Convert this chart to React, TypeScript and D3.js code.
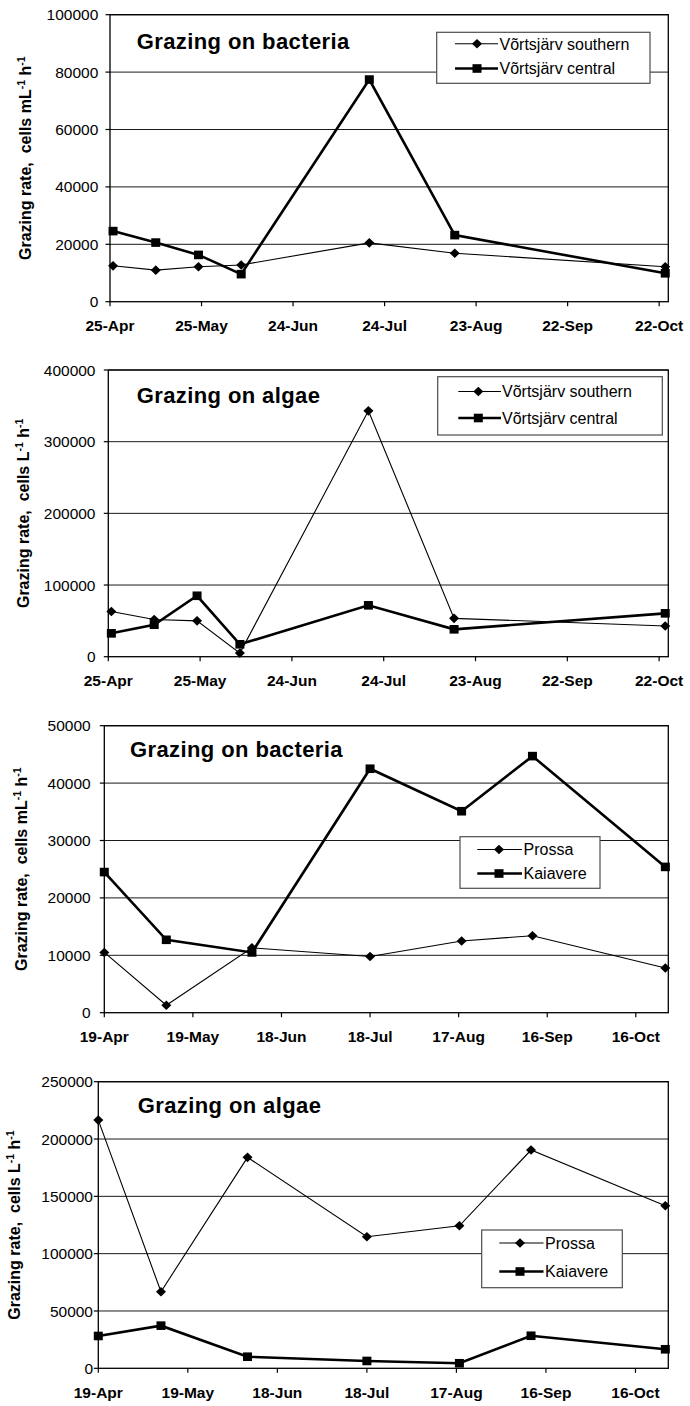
import React from "react";
import * as d3 from "d3";

const parseDay = d3.utcParse("%Y-%m-%d");
const fmtDay = d3.utcFormat("%-d-%b");

// Võrtsjärv sampling campaign
const vortsDates = ["2003-04-26", "2003-05-10", "2003-05-24", "2003-06-07", "2003-07-19", "2003-08-16", "2003-10-24"];
const vortsDomain = ["2003-04-25", "2003-10-25"];
const vortsTicks = ["2003-04-25", "2003-05-25", "2003-06-24", "2003-07-24", "2003-08-23", "2003-09-22", "2003-10-22"];
const bacteriaSouthern = [12500, 11000, 12200, 12800, 20500, 16900, 12200];
const bacteriaCentral = [24600, 20600, 16300, 9600, 77400, 23200, 9900];
const algaeSouthern = [63000, 52000, 50000, 5000, 343000, 53500, 42800];
const algaeCentral = [32600, 44600, 85000, 17300, 71700, 38200, 60500];

// Prossa / Kaiavere sampling campaign
const smallLakeDates = ["2003-04-19", "2003-05-10", "2003-06-08", "2003-07-18", "2003-08-18", "2003-09-11", "2003-10-26"];
const smallLakeDomain = ["2003-04-19", "2003-10-27"];
const smallLakeTicks = ["2003-04-19", "2003-05-19", "2003-06-18", "2003-07-18", "2003-08-17", "2003-09-16", "2003-10-16"];
const bacteriaProssa = [10500, 1300, 11300, 9800, 12500, 13400, 7800];
const bacteriaKaiavere = [24500, 12700, 10500, 42500, 35100, 44700, 25400];
const algaeProssa = [216500, 66800, 184000, 114800, 124300, 190400, 141800];
const algaeKaiavere = [28200, 37200, 10100, 6400, 4400, 28400, 16600];

const yMaxima = [100000, 400000, 50000, 250000];
const panelTitles = ["Grazing on bacteria", "Grazing on algae", "Grazing on bacteria", "Grazing on algae"];
const unitLabels = ["mL", "L", "mL", "L"];

const FONT = "'Liberation Sans', Arial, Helvetica, sans-serif";

type Series = { name: string; dates: string[]; values: number[]; heavy: boolean };

type Geometry = {
  left: number; right: number; top: number; bottom: number;
  tickLabelRight: number; yTitleX: number; titleX: number; titleDy: number;
  legend: { x0: number; x1: number; y0: number; y1: number; rows: number[]; lineX0: number; lineX1: number; markerX: number; textX: number };
};

const geometry: Geometry[] = [
  {
    left: 110, right: 668.3, top: 14.7, bottom: 301.7, tickLabelRight: 98.3, yTitleX: 25, titleX: 136.7, titleDy: 34.6,
    legend: { x0: 436.7, x1: 650, y0: 32.3, y1: 83.3, rows: [43.8, 68.5], lineX0: 455, lineX1: 498, markerX: 477, textX: 499.5 },
  },
  {
    left: 108.3, right: 668.3, top: 370, bottom: 656.7, tickLabelRight: 95.5, yTitleX: 23.5, titleX: 136.7, titleDy: 32.7,
    legend: { x0: 437.7, x1: 662.3, y0: 376.7, y1: 435, rows: [391.5, 418], lineX0: 458.3, lineX1: 501, markerX: 478.3, textX: 502 },
  },
  {
    left: 104.3, right: 668.3, top: 725.7, bottom: 1012.7, tickLabelRight: 90.7, yTitleX: 21.7, titleX: 130, titleDy: 31.6,
    legend: { x0: 460, x1: 600, y0: 836.7, y1: 888.3, rows: [849.5, 873.5], lineX0: 477.3, lineX1: 522, markerX: 499, textX: 523.5 },
  },
  {
    left: 98.3, right: 668.3, top: 1081.7, bottom: 1368.3, tickLabelRight: 93, yTitleX: 14, titleX: 137.7, titleDy: 31,
    legend: { x0: 481.7, x1: 622.3, y0: 1230, y1: 1287.7, rows: [1243, 1271.5], lineX0: 499.3, lineX1: 543.5, markerX: 520, textX: 545 },
  },
];

const panelSeries: Series[][] = [
  [
    { name: "Võrtsjärv southern", dates: vortsDates, values: bacteriaSouthern, heavy: false },
    { name: "Võrtsjärv central", dates: vortsDates, values: bacteriaCentral, heavy: true },
  ],
  [
    { name: "Võrtsjärv southern", dates: vortsDates, values: algaeSouthern, heavy: false },
    { name: "Võrtsjärv central", dates: vortsDates, values: algaeCentral, heavy: true },
  ],
  [
    { name: "Prossa", dates: smallLakeDates, values: bacteriaProssa, heavy: false },
    { name: "Kaiavere", dates: smallLakeDates, values: bacteriaKaiavere, heavy: true },
  ],
  [
    { name: "Prossa", dates: smallLakeDates, values: algaeProssa, heavy: false },
    { name: "Kaiavere", dates: smallLakeDates, values: algaeKaiavere, heavy: true },
  ],
];

const panelDomains = [vortsDomain, vortsDomain, smallLakeDomain, smallLakeDomain];
const panelTicks = [vortsTicks, vortsTicks, smallLakeTicks, smallLakeTicks];

function Marker({ x, y, heavy }: { x: number; y: number; heavy: boolean }) {
  if (heavy) {
    return <rect x={x - 4.5} y={y - 4.3} width={9} height={8.6} fill="#000" />;
  }
  const w = 5, h = 4.8;
  return <path d={`M${x},${y - h}L${x + w},${y}L${x},${y + h}L${x - w},${y}Z`} fill="#000" />;
}

function Panel({ index }: { index: number }) {
  const g = geometry[index];
  const series = panelSeries[index];
  const x = d3
    .scaleUtc()
    .domain(panelDomains[index].map((d) => parseDay(d) as Date))
    .range([g.left, g.right]);
  const y = d3.scaleLinear().domain([0, yMaxima[index]]).range([g.bottom, g.top]);
  const yTicks = y.ticks(5);
  const xTicks = panelTicks[index].map((d) => parseDay(d) as Date);
  const line = d3
    .line<[Date, number]>()
    .x((d) => x(d[0]))
    .y((d) => y(d[1]));
  const midY = (g.top + g.bottom) / 2;
  const lg = g.legend;

  return (
    <g>
      {yTicks
        .filter((v) => v > 0)
        .map((v) => (
          <line key={v} x1={g.left} x2={g.right} y1={y(v)} y2={y(v)} stroke="#1a1a1a" strokeWidth={1} />
        ))}
      <rect x={g.left} y={g.top} width={g.right - g.left} height={g.bottom - g.top} fill="none" stroke="#000" strokeWidth={1.3} />
      {yTicks.map((v) => (
        <g key={v}>
          <line x1={g.left - 4.5} x2={g.left} y1={y(v)} y2={y(v)} stroke="#000" strokeWidth={1.2} />
          <text x={g.tickLabelRight} y={y(v)} dy="0.36em" textAnchor="end" fontSize={15.5} fontFamily={FONT} fill="#000">
            {String(v)}
          </text>
        </g>
      ))}
      {xTicks.map((t) => (
        <g key={t.getTime()}>
          <line x1={x(t)} x2={x(t)} y1={g.bottom} y2={g.bottom + 4.5} stroke="#000" strokeWidth={1.2} />
          <text x={x(t)} y={g.bottom + 29.3} textAnchor="middle" fontSize={15.5} fontWeight="bold" fontFamily={FONT} fill="#000">
            {fmtDay(t)}
          </text>
        </g>
      ))}
      <text
        transform={`translate(${g.yTitleX},${midY}) rotate(-90)`}
        textAnchor="middle"
        dy="0.36em"
        fontSize={16}
        fontWeight="bold"
        fontFamily={FONT}
        fill="#000"
      >
        <tspan>{`Grazing rate, \u00a0cells ${unitLabels[index]}`}</tspan>
        <tspan fontSize={10.5} dy={-6}>-1</tspan>
        <tspan dy={6}> h</tspan>
        <tspan fontSize={10.5} dy={-6}>-1</tspan>
      </text>
      {series.map((s) => {
        const pts: [Date, number][] = s.dates.map((d, i) => [parseDay(d) as Date, s.values[i]]);
        return (
          <g key={s.name}>
            <path d={line(pts) || ""} fill="none" stroke="#000" strokeWidth={s.heavy ? 2.6 : 1.1} strokeLinejoin="miter" />
            {pts.map((p, i) => (
              <Marker key={i} x={x(p[0])} y={y(p[1])} heavy={s.heavy} />
            ))}
          </g>
        );
      })}
      <text x={g.titleX} y={g.top + g.titleDy} fontSize={22} fontWeight="bold" fontFamily={FONT} fill="#000" letterSpacing={0.4}>
        {panelTitles[index]}
      </text>
      <rect x={lg.x0} y={lg.y0} width={lg.x1 - lg.x0} height={lg.y1 - lg.y0} fill="#fff" stroke="#4d4d4d" strokeWidth={1.2} />
      {series.map((s, i) => (
        <g key={s.name}>
          <line x1={lg.lineX0} x2={lg.lineX1} y1={lg.rows[i]} y2={lg.rows[i]} stroke="#000" strokeWidth={s.heavy ? 2.6 : 1.1} />
          <Marker x={lg.markerX} y={lg.rows[i]} heavy={s.heavy} />
          <text x={lg.textX} y={lg.rows[i]} dy="0.36em" fontSize={16} fontFamily={FONT} fill="#000">
            {s.name}
          </text>
        </g>
      ))}
    </g>
  );
}

export default function App() {
  return (
    <svg
      width={690}
      height={1406}
      viewBox="0 0 690 1406"
      style={{ position: "absolute", left: 0, top: 0, display: "block", background: "#fff" }}
    >
      <rect x={0} y={0} width={690} height={1406} fill="#fff" />
      {geometry.map((_, i) => (
        <Panel key={i} index={i} />
      ))}
    </svg>
  );
}
